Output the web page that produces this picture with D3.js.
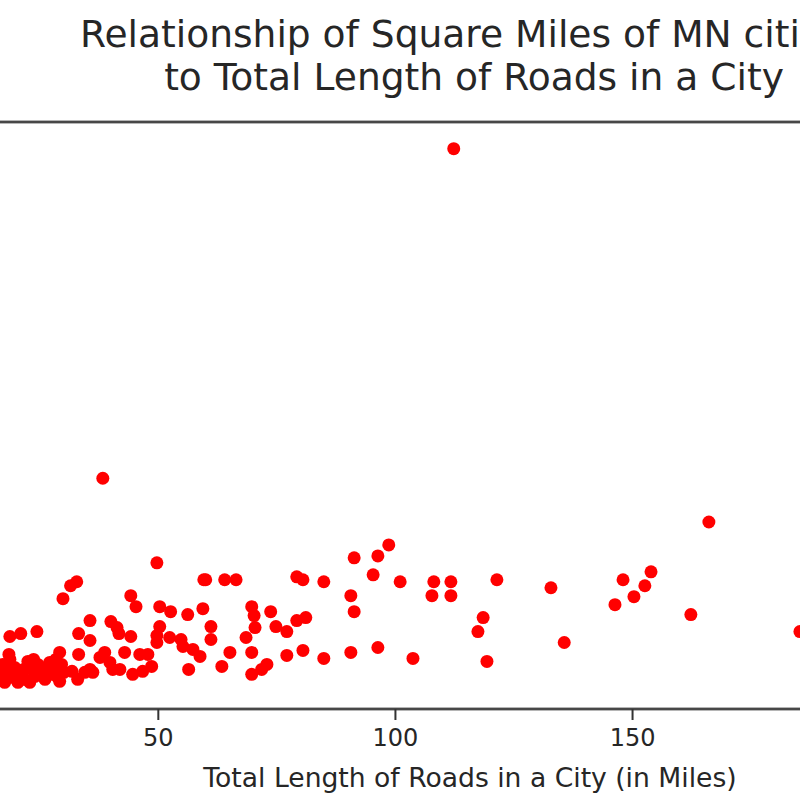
<!DOCTYPE html>
<html>
<head>
<meta charset="utf-8">
<script src="https://cdn.jsdelivr.net/npm/d3@7"></script>
<style>
  html, body { margin: 0; padding: 0; background: #fff; }
  svg { display: block; }
</style>
</head>
<body>
<svg id="chart" width="800" height="800"></svg>
<script>
// ---- data (total road length in miles, city area in square miles) ----
const roadMiles = [
  112.4, 38.4, 166.2, 98.7, 96.4, 91.4, 49.8, 95.4, 154.0, 148.1,
  152.7, 150.4, 146.4, 162.4, 132.9, 135.7, 185.4, 79.3, 80.6, 85.0,
  101.1, 108.2, 111.8, 107.8, 111.8, 121.5, 90.7, 91.4, 118.6, 117.5,
  79.3, 81.2, 77.2, 77.2, 80.6, 85.0, 90.7, 96.4, 103.8, 119.4,
  59.7, 60.1, 64.1, 66.5, 30.0, 31.6, 32.9, 44.3, 45.4, 50.4,
  52.7, 56.3, 59.5, 69.8, 70.3, 73.8, 35.7, 40.1, 41.4, 41.8,
  50.4, 61.2, 18.8, 21.1, 24.5, 33.3, 35.7, 44.3, 49.8, 49.8,
  52.5, 54.9, 55.3, 61.2, 68.6, 70.5, 74.9, 57.4, 58.9, 65.2,
  69.8, 63.5, 56.5, 73.0, 71.9, 69.8, 18.6, 29.3, 33.3, 38.8,
  43.0, 46.2, 47.9, 37.8, 39.9, 35.7, 36.3, 40.5, 42.0, 44.7,
  46.8, 48.7, 31.9, 34.6, 33.1,
  17.3, 18.4, 19.2, 17.7, 19.8, 20.9, 21.9, 22.6, 23.4, 24.1,
  24.7, 25.5, 26.2, 26.8, 27.6, 28.3, 28.9, 29.7, 30.2, 20.5,
  23.0, 25.1, 27.2, 18.8, 21.7, 25.9, 29.3, 16.7, 23.8, 28.5
];
const squareMiles = [
  54.0, 20.9, 16.5, 14.2, 13.1, 12.9, 12.4, 11.2, 11.5, 10.7,
  10.1, 9.0, 8.2, 7.2, 9.9, 4.4, 5.5, 11.0, 10.7, 10.5,
  10.5, 10.5, 10.5, 9.1, 9.1, 10.7, 9.1, 7.5, 6.9, 5.5,
  6.6, 6.9, 5.5, 3.1, 3.6, 2.8, 3.4, 3.9, 2.8, 2.5,
  10.7, 10.7, 10.7, 10.7, 8.8, 10.1, 10.5, 9.1, 8.0, 8.0,
  7.5, 7.2, 7.8, 8.0, 7.1, 7.5, 6.6, 6.5, 5.9, 5.3,
  6.0, 6.0, 5.0, 5.3, 5.5, 5.3, 4.6, 5.0, 5.1, 4.4,
  4.9, 4.7, 4.0, 4.7, 4.9, 5.9, 6.0, 3.7, 3.0, 3.4,
  3.4, 2.0, 1.7, 2.2, 1.7, 1.2, 3.2, 3.4, 3.2, 3.4,
  3.4, 3.2, 3.2, 2.9, 2.4, 1.7, 1.4, 1.7, 1.7, 1.2,
  1.5, 2.0, 1.5, 1.4, 0.7,
  2.2, 1.5, 0.9, 0.4, 1.9, 1.2, 0.7, 2.5, 1.7, 1.0,
  2.2, 1.5, 0.7, 2.0, 1.2, 1.7, 0.9, 2.2, 1.4, 0.4,
  0.4, 1.9, 2.4, 2.7, 1.7, 1.1, 0.5, 1.2, 2.7, 2.7
];
const xTickValues = [0, 50, 100, 150, 200];
const xDomain = [-5, 237.5];
const titleLines = ["Relationship of Square Miles of MN cities", "to Total Length of Roads in a City"];
const xLabel = "Total Length of Roads in a City (in Miles)";

// ---- layout ----
const svg = d3.select("#chart");
const plot = { left: -103, right: 1047, top: 122, bottom: 709 };
const font = "DejaVu Sans, sans-serif";
const textColor = "#262626";

const x = d3.scaleLinear().domain(xDomain).range([plot.left, plot.right]);
const [yMin, yMax] = d3.extent(squareMiles);
const yPad = (yMax - yMin) * 0.05;
const y = d3.scaleLinear().domain([yMin - yPad, yMax + yPad]).range([plot.bottom, plot.top]);

const points = roadMiles.map((r, i) => ({ r, s: squareMiles[i] }));

// points
svg.append("g")
  .selectAll("circle")
  .data(points)
  .join("circle")
  .attr("cx", d => x(d.r))
  .attr("cy", d => y(d.s))
  .attr("r", 6.5)
  .attr("fill", "#ff0000");

// frame (spines)
svg.append("rect")
  .attr("x", plot.left).attr("y", plot.top)
  .attr("width", plot.right - plot.left).attr("height", plot.bottom - plot.top)
  .attr("fill", "none").attr("stroke", "#474747").attr("stroke-width", 2.8);

// x axis
const xAxis = svg.append("g")
  .attr("transform", `translate(0,${plot.bottom})`)
  .call(d3.axisBottom(x).tickValues(xTickValues).tickSize(11).tickPadding(9).tickFormat(d3.format("d")));
xAxis.select(".domain").remove();
xAxis.selectAll(".tick line").attr("stroke", "#333").attr("stroke-width", 2);
xAxis.selectAll(".tick text")
  .attr("fill", textColor)
  .style("font-family", font)
  .style("font-size", "24px");

// x label
svg.append("text")
  .attr("x", 470).attr("y", 787)
  .attr("text-anchor", "middle")
  .attr("fill", textColor)
  .style("font-family", font)
  .style("font-size", "26.6px")
  .text(xLabel);

// title
svg.append("text")
  .attr("x", 80).attr("y", 47)
  .attr("text-anchor", "start")
  .attr("fill", textColor)
  .style("font-family", font)
  .style("font-size", "37.6px")
  .text(titleLines[0]);
svg.append("text")
  .attr("x", 474).attr("y", 90)
  .attr("text-anchor", "middle")
  .attr("fill", textColor)
  .style("font-family", font)
  .style("font-size", "37.6px")
  .text(titleLines[1]);
</script>
</body>
</html>
